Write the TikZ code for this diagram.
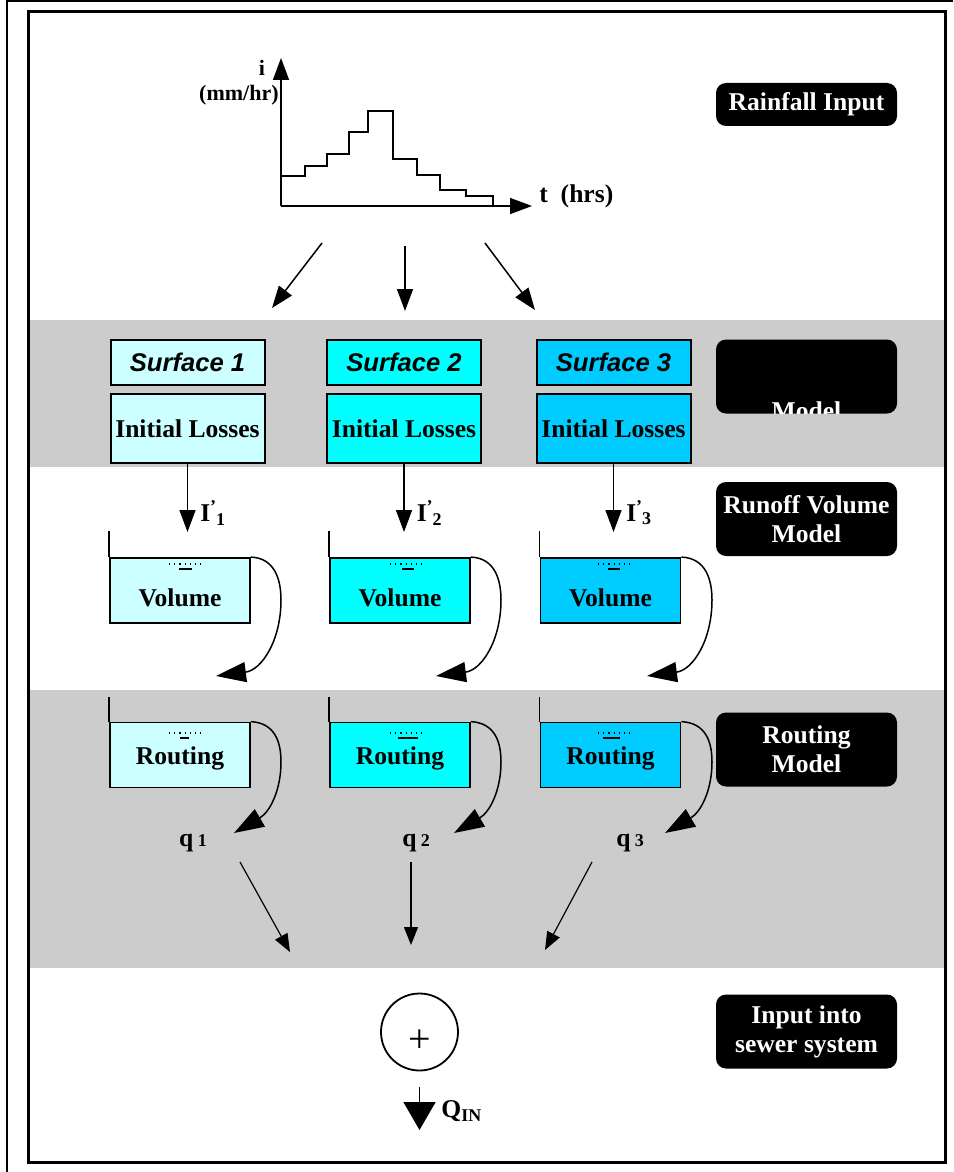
\documentclass[tikz,border=0pt]{standalone}
\usepackage{fontspec}
\setmainfont{Liberation Serif}
\newfontfamily\arialfont{Liberation Sans}
\usetikzlibrary{arrows.meta}

\definecolor{surfone}{HTML}{CCFFFF}
\definecolor{surftwo}{HTML}{00FFFF}
\definecolor{surfthree}{HTML}{00CCFF}
\definecolor{bandgrey}{HTML}{CCCCCC}

\tikzset{
  surfbox/.style={draw, line width=1pt, minimum width=77pt, minimum height=22.5pt, inner sep=0pt,
    font=\arialfont\bfseries\itshape\fontsize{12.8}{14}\selectfont},
  lossbox/.style={draw, line width=1pt, minimum width=77pt, minimum height=34.5pt, inner sep=0pt,
    font=\bfseries\fontsize{12.8}{14}\selectfont},
  tankbox/.style={draw, line width=0.9pt, minimum width=70pt, minimum height=32.5pt, inner sep=0pt},
  tanktext/.style={font=\bfseries\fontsize{12.8}{14}\selectfont},
  tag/.style={fill=black, rounded corners=5pt, text=white, minimum width=90.5pt, minimum height=37pt,
    align=center, inner sep=0pt, font=\bfseries\fontsize{12.8}{14.5}\selectfont},
  lab/.style={font=\bfseries\fontsize{12.8}{14}\selectfont, inner sep=0pt},
  axlab/.style={font=\bfseries\fontsize{11}{12}\selectfont, inner sep=0pt},
  wall/.style={line width=0.7pt},
  arr/.style={-{Triangle[length=11pt,width=8pt]}, line width=0.75pt},
  curvearr/.style={-{Triangle[length=15pt,width=10pt]}, line width=0.75pt},
  thinarr/.style={-{Triangle[length=9pt,width=7pt]}, line width=0.6pt},
  outarr/.style={-{Triangle[length=14pt,width=16pt]}, line width=0.75pt}
}
\newcommand{\inflow}[1]{I\textsuperscript{'}\kern-0.5pt\textsubscript{#1}}

\begin{document}
\begin{tikzpicture}[x=0.5pt,y=-0.5pt]
  \useasboundingbox (0,0) rectangle (953,1172);
  % grey bands and frame
  \fill[bandgrey] (30,320) rectangle (944,467);
  \fill[bandgrey] (30,690) rectangle (944,968);
  \draw[line width=1pt] (7,1172) -- (7,1.5) -- (953,1.5);
  \draw[line width=1.5pt] (28.5,12) rectangle (945.5,1162);

  % hyetograph
  \coordinate (orig) at (281,206);
  \coordinate (ytip) at (281,58);
  \coordinate (xtip) at (532,206);
  \draw[arr] (orig) -- (ytip);
  \draw[arr] (orig) -- (xtip);
  \draw[line width=0.7pt] (281,176) -- (305,176) -- (305,166) -- (327,166) -- (327,154)
    -- (349,154) -- (349,132) -- (368,132) -- (368,111) -- (393,111) -- (393,159)
    -- (417,159) -- (417,175) -- (440,175) -- (440,190) -- (466,190) -- (466,196)
    -- (493,196) -- (493,206);
  \node[axlab] (ilab) at (262,68) {i};
  \node[axlab, anchor=east] (unitlab) at (279,95) {(mm/hr)};
  \node[lab, anchor=west] (tlab) at (539,196) {t\ \ (hrs)};

  % rain onto the surfaces
  \coordinate (r1s) at (322,243);
  \coordinate (r1e) at (272,308);
  \coordinate (r2s) at (405,246);
  \coordinate (r2e) at (405,311);
  \coordinate (r3s) at (485,243);
  \coordinate (r3e) at (535,310);
  \draw[arr] (r1s) -- (r1e);
  \draw[arr] (r2s) -- (r2e);
  \draw[arr] (r3s) -- (r3e);

  % black tags on the right
  \node[tag, minimum height=21.5pt] (rain) at (806.5,104.5) {Rainfall Input};
  \node[tag] (lossmodel) at (806.5,376.5) {};
  \begin{scope}
    \clip[rounded corners=5pt] (lossmodel.north west) rectangle (lossmodel.south east);
    \node[lab, text=white, anchor=base] (lossmodeltxt) at (806.5,419) {Model};
  \end{scope}
  \node[tag] (runoff) at (806.5,519) {Runoff Volume\\Model};
  \node[tag] (routmodel) at (806.5,749.5) {Routing\\Model};
  \node[tag] (sewer) at (806.5,1031.5) {Input into\\sewer system};

  % surfaces and initial losses
  \node[surfbox, fill=surfone] (surf1) at (187.5,362) {Surface 1};
  \node[surfbox, fill=surftwo] (surf2) at (404,362) {Surface 2};
  \node[surfbox, fill=surfthree] (surf3) at (613.5,362) {Surface 3};
  \node[lossbox, fill=surfone] (loss1) at (187.5,428.5) {Initial Losses};
  \node[lossbox, fill=surftwo] (loss2) at (404,428.5) {Initial Losses};
  \node[lossbox, fill=surfthree] (loss3) at (613.5,428.5) {Initial Losses};

  % runoff volume tanks
  \node[tankbox, fill=surfone] (vol1) at (180,590.5) {};
  \node[tankbox, fill=surftwo] (vol2) at (400,590.5) {};
  \node[tankbox, fill=surfthree] (vol3) at (610.5,590.5) {};
  \node[tanktext] (vol1txt) at (180,598) {Volume};
  \node[tanktext] (vol2txt) at (400,598) {Volume};
  \node[tanktext] (vol3txt) at (610.5,598) {Volume};
  \draw[wall] (vol1.north west) -- ++(0,-26);
  \draw[wall] (vol2.north west) -- ++(0,-26);
  \draw[wall] (vol3.north west) -- ++(0,-26);
  \draw[dotted, line width=0.6pt] (169,564) -- (205,564);
  \draw[dotted, line width=0.6pt] (390,564) -- (426,564);
  \draw[dotted, line width=0.6pt] (598,564) -- (633,564);
  \draw[line width=1pt] (179,569) -- (192,569);
  \draw[line width=1pt] (402,569) -- (414,569);
  \draw[line width=1pt] (608,569) -- (620,569);

  % effective rainfall into the tanks
  \coordinate (i1) at (187.5,532);
  \coordinate (i2) at (404,532);
  \coordinate (i3) at (613.5,532);
  \draw[arr] (loss1.south) -- (i1) node[pos=0.72, right=6pt, lab] {\inflow{1}};
  \draw[arr] (loss2.south) -- (i2) node[pos=0.72, right=6pt, lab] {\inflow{2}};
  \draw[arr] (loss3.south) -- (i3) node[pos=0.72, right=6pt, lab] {\inflow{3}};

  % overflow to routing
  \coordinate (v1tip) at (216,676);
  \coordinate (v2tip) at (436,676);
  \coordinate (v3tip) at (647,676);
  \draw[curvearr] (vol1.north east) .. controls (275,558) and (281,580) .. (281,600)
    .. controls (281,640) and (262,670) .. (v1tip);
  \draw[curvearr] (vol2.north east) .. controls (495,558) and (501,580) .. (501,600)
    .. controls (501,640) and (482,670) .. (v2tip);
  \draw[curvearr] (vol3.north east) .. controls (706,558) and (712,580) .. (712,600)
    .. controls (712,640) and (693,670) .. (v3tip);

  % routing tanks
  \node[tankbox, fill=surfone] (rout1) at (180,755) {};
  \node[tankbox, fill=surftwo] (rout2) at (400,755) {};
  \node[tankbox, fill=surfthree] (rout3) at (610.5,755) {};
  \node[tanktext] (rout1txt) at (180,758) {Routing};
  \node[tanktext] (rout2txt) at (400,758) {Routing};
  \node[tanktext] (rout3txt) at (610.5,758) {Routing};
  \draw[wall] (rout1.north west) -- ++(0,-25);
  \draw[wall] (rout2.north west) -- ++(0,-25);
  \draw[wall] (rout3.north west) -- ++(0,-25);
  \draw[dotted, line width=0.6pt] (169,733) -- (205,733);
  \draw[dotted, line width=0.6pt] (390,733) -- (426,733);
  \draw[dotted, line width=0.6pt] (598,733) -- (633,733);
  \draw[line width=1pt] (180,738) -- (189,738);
  \draw[line width=1pt] (398,738) -- (418,738);
  \draw[line width=1pt] (603,738) -- (620,738);

  % outflows
  \coordinate (o1tip) at (234,833);
  \coordinate (o2tip) at (454,833);
  \coordinate (o3tip) at (665,833);
  \draw[curvearr] (rout1.north east) .. controls (275,723) and (281,742) .. (281,762)
    .. controls (281,790) and (270,812) .. (o1tip);
  \draw[curvearr] (rout2.north east) .. controls (495,723) and (501,742) .. (501,762)
    .. controls (501,790) and (490,812) .. (o2tip);
  \draw[curvearr] (rout3.north east) .. controls (706,723) and (712,742) .. (712,762)
    .. controls (712,790) and (701,812) .. (o3tip);
  \node[lab] (q1) at (193,843) {q\,{\fontsize{9}{9}\selectfont 1}};
  \node[lab] (q2) at (416,843) {q\,{\fontsize{9}{9}\selectfont 2}};
  \node[lab] (q3) at (630,843) {q\,{\fontsize{9}{9}\selectfont 3}};

  % summation
  \coordinate (b1s) at (240,862);
  \coordinate (b1e) at (290,952);
  \coordinate (b2s) at (411,862);
  \coordinate (b2e) at (411,945);
  \coordinate (b3s) at (592,862);
  \coordinate (b3e) at (545,950);
  \draw[thinarr] (b1s) -- (b1e);
  \draw[thinarr] (b2s) -- (b2e);
  \draw[thinarr] (b3s) -- (b3e);
  \node[circle, draw, line width=0.9pt, minimum size=38.5pt, inner sep=0pt] (sum) at (419.5,1032) {};
  \node[font=\fontsize{20}{20}\selectfont, inner sep=0pt] (plus) at (420,1041) {+};
  \coordinate (qout) at (419.5,1130);
  \draw[outarr] ([yshift=-8pt]sum.south) -- (qout);
  \node[lab, anchor=west] (qin) at (441,1111) {Q\textsubscript{IN}};
\end{tikzpicture}
\end{document}
